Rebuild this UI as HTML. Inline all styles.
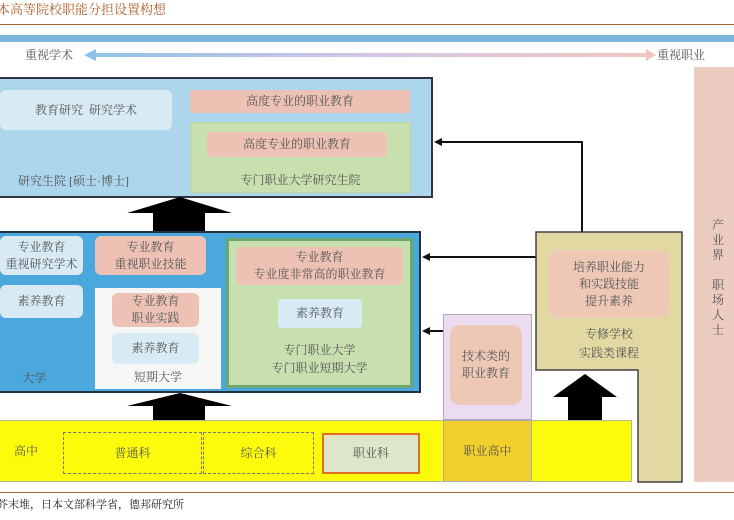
<!DOCTYPE html>
<html><head><meta charset="utf-8"><style>
body{margin:0;width:734px;height:520px;position:relative;background:#fff;overflow:hidden;font-family:"Liberation Serif","Noto Serif CJK SC","Noto Sans CJK SC",serif;}
.a{position:absolute;box-sizing:border-box;}
.t{position:absolute;color:#555;font-size:12px;line-height:17px;text-align:center;white-space:nowrap;}
.c{display:flex;align-items:center;justify-content:center;text-align:center;color:#555;font-size:12px;line-height:17px;}
</style></head><body>
<div class="t" style="left:-3px;top:1px;font-size:13px;color:#b0602a;text-align:left;">本高等院校职能分担设置构想</div>
<div class="a" style="left:0;top:24px;width:734px;height:1px;background:#a0622e"></div>
<div class="a" style="left:0;top:35px;width:734px;height:7px;background:#7cb4dc"></div>
<div class="t" style="left:25px;top:47px;">重视学术</div>
<div class="a" style="left:92px;top:53px;width:556px;height:4px;background:linear-gradient(90deg,#8ec3e8,#d4c4e6,#f0c8c0)"></div>
<svg class="a" style="left:84px;top:49px" width="12" height="12"><polygon points="0,6 12,0 12,12" fill="#8ec3e8"/></svg>
<svg class="a" style="left:646px;top:49px" width="10" height="12"><polygon points="10,6 0,0 0,12" fill="#f0c8c0"/></svg>
<div class="t" style="left:657px;top:47px;">重视职业</div>
<div class="a" style="left:694px;top:67px;width:40px;height:415px;background:#eccbc0"></div>
<div class="t" style="left:711px;top:218px;width:14px;white-space:normal;line-height:15px;">产业界<br><br>职场人士</div>

<!-- top box -->
<div class="a" style="left:-2px;top:77px;width:435px;height:121px;background:#abd6ec;border:2px solid #334"></div>
<div class="a c" style="left:0;top:90px;width:172px;height:40px;background:#d8ebf5;border-radius:6px;">教育研究&nbsp; 研究学术</div>
<div class="a c" style="left:190px;top:90px;width:220px;height:23px;background:#edc2b4;">高度专业的职业教育</div>
<div class="a" style="left:190px;top:122px;width:221px;height:71px;background:#c8e0b0;border:1px solid #b8d8a0"></div>
<div class="a c" style="left:207px;top:132px;width:180px;height:25px;background:#edc2b4;border-radius:4px;">高度专业的职业教育</div>
<div class="t" style="left:190px;top:172px;width:221px;">专门职业大学研究生院</div>
<div class="t" style="left:18px;top:173px;">研究生院 [硕士·博士]</div>

<svg class="a" style="left:0;top:0" width="734" height="520">
<polygon points="180,197 232,213 205,213 205,231 153,231 153,213 127,213" fill="#000"/>
<polygon points="180,393 232,406 205,406 205,421 153,421 153,406 127,406" fill="#000"/>
<polygon points="585,374 617,397 602,397 602,420 568,420 568,397 553,397" fill="#000"/>
<polyline points="582,232 582,142 437,142" fill="none" stroke="#111" stroke-width="2"/>
<polygon points="434,142 442,138 442,146" fill="#111"/>
<line x1="536" y1="257" x2="425" y2="257" stroke="#111" stroke-width="2"/>
<polygon points="422,257 430,253 430,261" fill="#111"/>
<line x1="443" y1="331" x2="425" y2="331" stroke="#111" stroke-width="2"/>
<polygon points="422,331 430,327 430,335" fill="#111"/>
</svg>

<!-- middle box -->
<div class="a" style="left:-2px;top:231px;width:423px;height:162px;background:#4aa8dc;border:2px solid #234"></div>
<div class="a c" style="left:0;top:236px;width:83px;height:39px;background:#d8ebf5;border-radius:6px;">专业教育<br>重视研究学术</div>
<div class="a c" style="left:0;top:285px;width:83px;height:33px;background:#d8ebf5;border-radius:6px;">素养教育</div>
<div class="t" style="left:22px;top:370px;">大学</div>
<div class="a c" style="left:95px;top:236px;width:111px;height:39px;background:#edc2b4;border-radius:6px;">专业教育<br>重视职业技能</div>
<div class="a" style="left:95px;top:288px;width:126px;height:101px;background:#f6f6f6"></div>
<div class="a c" style="left:112px;top:293px;width:87px;height:34px;background:#edc2b4;border-radius:6px;">专业教育<br>职业实践</div>
<div class="a c" style="left:112px;top:333px;width:87px;height:31px;background:#d8ebf5;border-radius:6px;">素养教育</div>
<div class="t" style="left:95px;top:369px;width:126px;">短期大学</div>
<div class="a" style="left:226px;top:238px;width:187px;height:150px;background:#c8e0b0;border:3px solid #6aa870"></div>
<div class="a c" style="left:236px;top:247px;width:167px;height:38px;background:#edc2b4;border-radius:6px;">专业教育<br>专业度非常高的职业教育</div>
<div class="a c" style="left:278px;top:299px;width:84px;height:29px;background:#d8ebf5;border-radius:4px;">素养教育</div>
<div class="t" style="left:226px;top:341px;width:187px;line-height:18px;">专门职业大学<br>专门职业短期大学</div>

<!-- khaki -->
<svg class="a" style="left:0;top:0" width="734" height="520">
<polygon points="536,232 682,232 682,482 638,482 638,370 536,370" fill="#e2d9a2" stroke="#444" stroke-width="1.5"/>
</svg>
<div class="a c" style="left:548px;top:250px;width:122px;height:68px;background:#edc8b6;border-radius:10px;">培养职业能力<br>和实践技能<br>提升素养</div>
<div class="t" style="left:536px;top:325px;width:146px;line-height:19px;">专修学校<br>实践类课程</div>

<!-- purple -->
<div class="a" style="left:443px;top:314px;width:89px;height:106px;background:#ecdcf2;border:1px solid #aab"></div>
<div class="a c" style="left:450px;top:325px;width:72px;height:80px;background:#edc8b6;border-radius:10px;">技术类的<br>职业教育</div>

<!-- yellow band -->
<div class="a" style="left:-2px;top:420px;width:634px;height:62px;background:#fdfb0c;border:1px solid #b8b890"></div>
<div class="a" style="left:443px;top:420px;width:89px;height:62px;background:#f2cf2a;border:1px solid #aab"></div>
<div class="t" style="left:443px;top:443px;width:89px;">职业高中</div>
<div class="t" style="left:14px;top:443px;">高中</div>
<div class="a c" style="left:63px;top:432px;width:139px;height:42px;border:1px dashed #777;">普通科</div>
<div class="a c" style="left:203px;top:432px;width:111px;height:42px;border:1px dashed #777;">综合科</div>
<div class="a c" style="left:322px;top:433px;width:98px;height:41px;background:#dde6c8;border:2px solid #e07020;">职业科</div>

<div class="a" style="left:0;top:492px;width:734px;height:1px;background:#a0622e"></div>
<div class="t" style="left:-3px;top:497px;font-size:11px;color:#222;text-align:left;">芥末堆，日本文部科学省，德邦研究所</div>
</body></html>
